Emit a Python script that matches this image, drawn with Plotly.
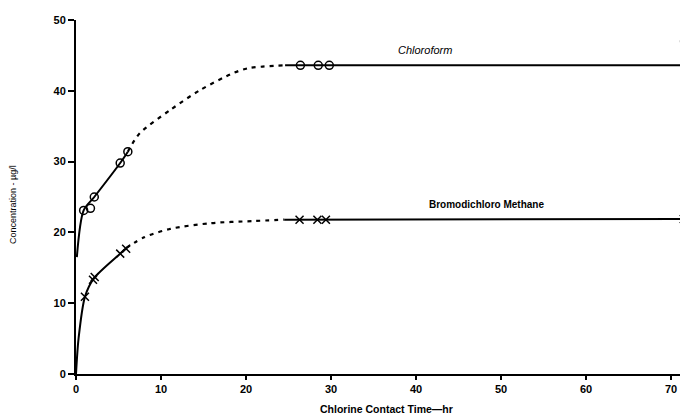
import plotly.graph_objects as go

# Measured points (hr, µg/l)
chl_x = [0.9, 1.7, 2.15, 5.2, 6.1, 26.4, 28.5, 29.8, 71.6]
chl_y = [23.1, 23.4, 25.0, 29.8, 31.4, 43.6, 43.6, 43.6, 47.0]
bdcm_x = [1.05, 2.0, 2.2, 5.2, 5.9, 26.3, 28.4, 29.4, 71.5]
bdcm_y = [10.9, 13.3, 13.7, 17.0, 17.7, 21.8, 21.8, 21.8, 21.9]

# Fitted curves: solid start, dashed middle, solid plateau
chl_s1_x = [0.1, 0.9, 2.15, 5.2, 6.1]
chl_s1_y = [16.5, 23.1, 25.0, 29.8, 31.4]
chl_d_x = [6.1, 7.5, 11.1, 14.6, 18.5, 20.3, 24.6]
chl_d_y = [31.4, 34.0, 37.3, 40.1, 42.5, 43.2, 43.6]
chl_s2_x = [24.6, 72.0]
chl_s2_y = [43.6, 43.6]

bdcm_s1_x = [0.0, 0.3, 1.05, 2.1, 5.2, 5.9]
bdcm_s1_y = [0.0, 5.0, 10.9, 13.5, 17.0, 17.8]
bdcm_d_x = [5.9, 8.0, 11.1, 15.8, 20.8, 24.5]
bdcm_d_y = [17.8, 19.3, 20.5, 21.3, 21.6, 21.8]
bdcm_s2_x = [24.5, 72.0]
bdcm_s2_y = [21.8, 21.9]

x_ticks = [0, 10, 20, 30, 40, 50, 60, 70]
y_ticks = [0, 10, 20, 30, 40, 50]

fig = go.Figure()
ln = dict(color="black", width=2, shape="spline", smoothing=0.8)
dln = dict(color="black", width=2.2, dash="4px,5px", shape="spline", smoothing=0.8)

for xs, ys, l in [(chl_s1_x, chl_s1_y, ln), (chl_d_x, chl_d_y, dln), (chl_s2_x, chl_s2_y, ln),
                  (bdcm_s1_x, bdcm_s1_y, ln), (bdcm_d_x, bdcm_d_y, dln), (bdcm_s2_x, bdcm_s2_y, ln)]:
    fig.add_trace(go.Scatter(x=xs, y=ys, mode="lines", line=l, showlegend=False,
                             hoverinfo="skip", cliponaxis=False))

fig.add_trace(go.Scatter(x=chl_x, y=chl_y, mode="markers", showlegend=False, cliponaxis=False,
                         marker=dict(symbol="circle-open", size=8, color="black", line=dict(width=1.5))))
fig.add_trace(go.Scatter(x=bdcm_x, y=bdcm_y, mode="markers", showlegend=False, cliponaxis=False,
                         marker=dict(symbol="x-thin-open", size=8, color="black", line=dict(width=1.5))))

fig.add_annotation(x=41, y=45.8, text="<i>Chloroform</i>", showarrow=False,
                   font=dict(family="Liberation Sans", size=11, color="black"))
fig.add_annotation(x=48.3, y=23.9, text="Bromodichloro Methane", showarrow=False,
                   font=dict(family="Liberation Sans", size=10, color="black", weight=700))
# page pixel positions (from top-left) converted to paper coords below
fig.add_annotation(x=386, y=409, xref="paper", yref="paper", text="Chlorine Contact Time—hr",
                   showarrow=False, xanchor="center", yanchor="middle",
                   font=dict(family="Liberation Sans", size=10.5, color="black", weight=700))
fig.add_annotation(x=13, y=205, xref="paper", yref="paper", text="Concentration - µg/l",
                   textangle=-90, showarrow=False, xanchor="center", yanchor="middle",
                   font=dict(family="Liberation Sans", size=9, color="black"))

# page body has an 8px margin: figure origin sits at (8, 8) on the page
OFF = 8
W, H = 688, 417 - OFF
ml, mr, mt = 76 - OFF, OFF, 20 - OFF
mb = H - (374 - OFF)
pw, ph = W - ml - mr, H - mt - mb
for a in fig.layout.annotations[2:]:
    a.x = (a.x - OFF - ml) / pw
    a.y = (H - (a.y - OFF) - mb) / ph

fig.update_layout(
    width=W, height=H, margin=dict(l=ml, r=mr, t=mt, b=mb, autoexpand=False),
    plot_bgcolor="white", paper_bgcolor="white",
    xaxis=dict(range=[0, 72], tickvals=x_ticks, showgrid=False, zeroline=False, automargin=False,
               showline=True, linecolor="black", linewidth=2, ticks="outside", ticklen=4,
               tickwidth=2, tickcolor="black",
               tickfont=dict(family="Liberation Sans", size=11, color="black", weight=700)),
    yaxis=dict(range=[0, 50], tickvals=y_ticks, showgrid=False, zeroline=False, automargin=False,
               showline=True, linecolor="black", linewidth=2, ticks="outside", ticklen=6,
               tickwidth=2, tickcolor="black",
               tickfont=dict(family="Liberation Sans", size=11, color="black", weight=700)),
)
fig.write_html("out.html")
